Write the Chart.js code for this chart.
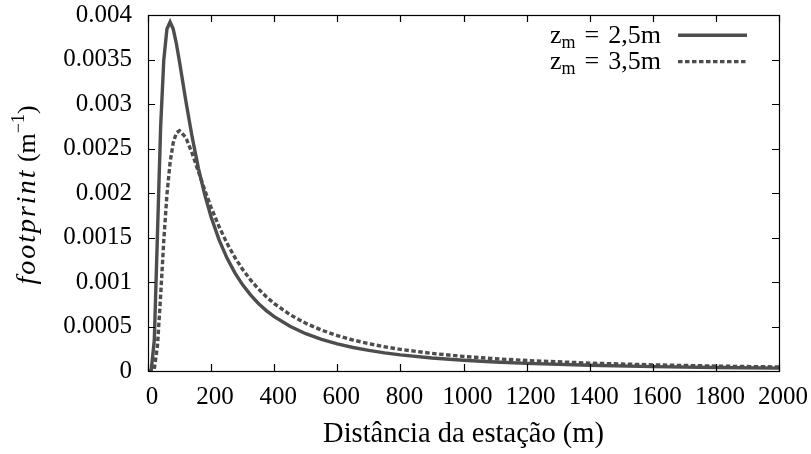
<!DOCTYPE html>
<html>
<head>
<meta charset="utf-8">
<script src="https://cdn.jsdelivr.net/npm/chart.js@4/dist/chart.umd.min.js"></script>
<style>
  html, body { margin: 0; padding: 0; background: #fff; }
  #wrap { width: 811px; height: 454px; }
</style>
</head>
<body>
<div id="wrap"><canvas id="c" width="811" height="454"></canvas></div>
<script>
// distance from the station (m) and footprint (1/m) for two measurement heights
const distancia = [0, 10, 20, 30, 40, 50, 60, 70, 80, 90,
                   100, 120, 140, 160, 180, 200, 225, 250, 275, 300,
                   325, 350, 375, 400, 450, 500, 550, 600, 650, 700,
                   750, 800, 900, 1000, 1100, 1200, 1400, 1600, 1800, 2000];
const zm25 = [0, 0.0000014, 0.000348, 0.001541, 0.002738, 0.003494, 0.003843, 0.003922, 0.003842, 0.003677,
              0.003472, 0.003034, 0.002627, 0.002275, 0.001979, 0.001730, 0.001476, 0.001271, 0.001105, 0.000968,
              0.000855, 0.000759, 0.000679, 0.000611, 0.000502, 0.000419, 0.000355, 0.000305, 0.000264, 0.000231,
              0.000204, 0.0001815, 0.0001462, 0.0001202, 0.0001006, 0.0000854, 0.0000638, 0.0000495, 0.0000394, 0.0000322];
const zm35 = [0, 0, 0.000023, 0.000283, 0.000842, 0.001465, 0.001982, 0.002344, 0.002565, 0.002676,
              0.002700, 0.002623, 0.002445, 0.002238, 0.002032, 0.001839, 0.001624, 0.001438, 0.001278, 0.001141,
              0.001023, 0.000922, 0.000834, 0.000758, 0.000633, 0.000536, 0.000460, 0.000398, 0.000348, 0.000307,
              0.000272, 0.000243, 0.0001977, 0.0001637, 0.0001378, 0.0001176, 0.0000885, 0.0000689, 0.0000552, 0.0000452];

const xTicks = [0, 200, 400, 600, 800, 1000, 1200, 1400, 1600, 1800, 2000];
const yTicks = [0, 0.0005, 0.001, 0.0015, 0.002, 0.0025, 0.003, 0.0035, 0.004];
const yTickLabels = ['0', '0.0005', '0.001', '0.0015', '0.002', '0.0025', '0.003', '0.0035', '0.004'];
const legendLabels = ['2,5m', '3,5m'];

const SERIF = "'Liberation Serif', 'Times New Roman', serif";
const INK = '#4d4d4d';

function toPoints(ys) {
  return distancia.map((x, i) => ({ x: x, y: ys[i] }));
}

// gnuplot-like box with inward ticks, rotated y title and key in the top right corner
const gnuplotBox = {
  id: 'gnuplotBox',
  afterDraw(chart) {
    const ctx = chart.ctx;
    const a = chart.chartArea;
    const xs = chart.scales.x, ys = chart.scales.y;
    ctx.save();

    ctx.strokeStyle = '#000';
    ctx.lineWidth = 1.2;
    ctx.strokeRect(a.left + 0.5, a.top + 0.5, a.right - a.left, a.bottom - a.top);
    const len = 7;
    ctx.beginPath();
    xTicks.forEach(v => {
      const px = Math.round(xs.getPixelForValue(v)) + 0.5;
      ctx.moveTo(px, a.bottom); ctx.lineTo(px, a.bottom - len);
      ctx.moveTo(px, a.top); ctx.lineTo(px, a.top + len);
    });
    yTicks.forEach(v => {
      const py = Math.round(ys.getPixelForValue(v)) + 0.5;
      ctx.moveTo(a.left, py); ctx.lineTo(a.left + len, py);
      ctx.moveTo(a.right, py); ctx.lineTo(a.right - len, py);
    });
    ctx.stroke();

    // y axis title: italic "footprint" followed by (m^-1)
    ctx.fillStyle = '#000';
    ctx.textBaseline = 'alphabetic';
    ctx.textAlign = 'left';
    const parts = [
      { t: 'footprint', f: 'italic 28px ' + SERIF, sp: 2, dy: 0 },
      { t: ' (m', f: '26px ' + SERIF, sp: 0, dy: 0 },
      { t: '\u22121', f: '18px ' + SERIF, sp: 0, dy: -11 },
      { t: ')', f: '26px ' + SERIF, sp: 0, dy: 0 }
    ];
    let total = 0;
    parts.forEach(p => {
      ctx.font = p.f;
      ctx.letterSpacing = p.sp + 'px';
      p.w = ctx.measureText(p.t).width;
      total += p.w;
    });
    ctx.translate(35, 195);
    ctx.rotate(-Math.PI / 2);
    let cx = -total / 2;
    parts.forEach(p => {
      ctx.font = p.f;
      ctx.letterSpacing = p.sp + 'px';
      ctx.fillText(p.t, cx, p.dy);
      cx += p.w;
    });
    ctx.setTransform(1, 0, 0, 1, 0, 0);
    ctx.letterSpacing = '0px';

    // key: text right aligned, line sample on the right
    chart.data.datasets.forEach((ds, i) => {
      const by = 42.7 + i * 26.3;
      const row = [
        { t: 'z', f: '26px ' + SERIF, dy: 0, gap: 0 },
        { t: 'm', f: '18px ' + SERIF, dy: 5, gap: 9 },
        { t: '=', f: '26px ' + SERIF, dy: 0, gap: 9 },
        { t: legendLabels[i], f: '26px ' + SERIF, dy: 0, gap: 0 }
      ];
      let w = 0;
      row.forEach(p => { ctx.font = p.f; p.w = ctx.measureText(p.t).width; w += p.w + p.gap; });
      let tx = 661 - w;
      row.forEach(p => {
        ctx.font = p.f;
        ctx.fillText(p.t, tx, by + p.dy);
        tx += p.w + p.gap;
      });
      ctx.beginPath();
      ctx.strokeStyle = ds.borderColor;
      ctx.lineWidth = ds.borderWidth;
      ctx.setLineDash(ds.borderDash || []);
      ctx.moveTo(678, by - 7.4);
      ctx.lineTo(747, by - 7.4);
      ctx.stroke();
      ctx.setLineDash([]);
    });

    ctx.restore();
  }
};

const tickFont = { family: SERIF, size: 25 };

new Chart(document.getElementById('c'), {
  type: 'line',
  data: {
    datasets: [
      {
        label: 'zm = ' + legendLabels[0],
        data: toPoints(zm25),
        borderColor: INK,
        borderWidth: 3.4,
        borderJoinStyle: 'miter',
        pointRadius: 0,
        tension: 0
      },
      {
        label: 'zm = ' + legendLabels[1],
        data: toPoints(zm35),
        borderColor: INK,
        borderWidth: 3.4,
        borderDash: [4.5, 2.5],
        pointRadius: 0,
        tension: 0
      }
    ]
  },
  options: {
    responsive: false,
    animation: false,
    layout: { padding: { left: 0, right: 32, top: 15, bottom: 0 } },
    plugins: {
      legend: { display: false },
      tooltip: { enabled: false }
    },
    scales: {
      x: {
        type: 'linear',
        min: 0,
        max: 2000,
        afterBuildTicks: s => { s.ticks = xTicks.map(v => ({ value: v })); },
        afterFit: s => { s.height = 83; s.paddingLeft = 0; s.paddingRight = 0; },
        grid: { display: false, drawTicks: false },
        border: { display: false },
        ticks: {
          font: tickFont,
          color: '#000',
          padding: 11,
          labelOffset: 4,
          maxRotation: 0,
          autoSkip: false,
          callback: v => String(v)
        },
        title: {
          display: true,
          text: 'Distância da estação (m)',
          font: { family: SERIF, size: 28.5 },
          color: '#000',
          padding: { top: 4, bottom: 2 }
        }
      },
      y: {
        min: 0,
        max: 0.004,
        afterBuildTicks: s => { s.ticks = yTicks.map(v => ({ value: v })); },
        afterFit: s => { s.width = 148; s.paddingTop = 0; s.paddingBottom = 0; },
        grid: { display: false, drawTicks: false },
        border: { display: false },
        ticks: {
          font: tickFont,
          color: '#000',
          padding: 16,
          autoSkip: false,
          callback: (v, i) => yTickLabels[i]
        }
      }
    }
  },
  plugins: [gnuplotBox]
});
</script>
</body>
</html>
